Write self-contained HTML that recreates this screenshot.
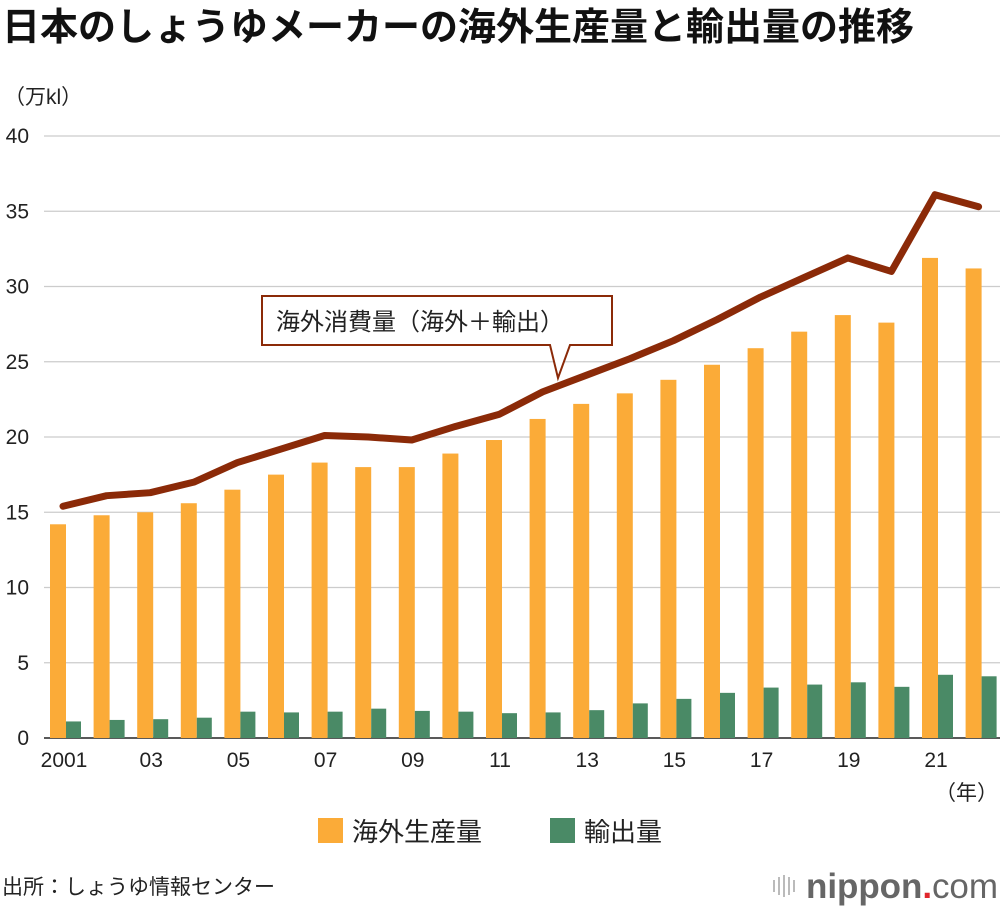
<!DOCTYPE html>
<html><head><meta charset="utf-8"><style>
body{margin:0;background:#fff;width:1000px;height:910px;overflow:hidden;font-family:"Liberation Sans","Noto Sans CJK JP",sans-serif}
</style></head><body>
<svg width="1000" height="910" style="font-family:'Liberation Sans','Noto Sans CJK JP',sans-serif">
<text x="2" y="40" font-size="38" font-weight="bold" fill="#111">日本のしょうゆメーカーの海外生産量と輸出量の推移</text>
<text x="4" y="104" font-size="21" fill="#222">（万kl）</text>
<g id="grid"></g><g id="bars"></g><g id="line"></g><g id="xt"></g>
<text x="998" y="800" font-size="21" text-anchor="end" fill="#222">（年）</text>
<g>
<path d="M262,296 H612 V345 H570 L558,378 L550,345 H262 Z" fill="#fff" stroke="#8b2a08" stroke-width="2"/>
<text x="276" y="330" font-size="24" fill="#222">海外消費量（海外＋輸出）</text>
</g>
<g>
<rect x="318" y="818" width="25" height="25" fill="#fbab38"/>
<text x="352" y="841" font-size="26" fill="#222">海外生産量</text>
<rect x="550" y="818" width="25" height="25" fill="#4a8a66"/>
<text x="584" y="841" font-size="26" fill="#222">輸出量</text>
</g>
<text x="2" y="894" font-size="21" fill="#222">出所：しょうゆ情報センター</text>
<g>
<g fill="#bbb"><rect x="773" y="880" width="2" height="12"/><rect x="778" y="877" width="2" height="18"/><rect x="783" y="875" width="2" height="22"/><rect x="788" y="877" width="2" height="18"/><rect x="793" y="880" width="2" height="12"/></g>
<text x="806" y="898" font-size="35" font-weight="bold" fill="#666" textLength="192">nippon<tspan fill="#e0262c">.</tspan><tspan font-weight="normal">com</tspan></text>
</g>
</svg>
<script>
const years=["2001","02","03","04","05","06","07","08","09","10","11","12","13","14","15","16","17","18","19","20","21","22"];
const overseas=[14.2,14.8,15.0,15.6,16.5,17.5,18.3,18.0,18.0,18.9,19.8,21.2,22.2,22.9,23.8,24.8,25.9,27.0,28.1,27.6,31.9,31.2];
const exportsV=[1.1,1.2,1.25,1.35,1.75,1.7,1.75,1.95,1.8,1.75,1.65,1.7,1.85,2.3,2.6,3.0,3.35,3.55,3.7,3.4,4.2,4.1];
const total=[15.4,16.1,16.3,17.0,18.3,19.2,20.1,20.0,19.8,20.7,21.5,23.0,24.1,25.2,26.4,27.8,29.3,30.6,31.9,31.0,36.1,35.3];
const yTicks=[0,5,10,15,20,25,30,35,40];
const shownX=["2001","03","05","07","09","11","13","15","17","19","21"];
const NS="http://www.w3.org/2000/svg";
const y=v=>738-v*15.05;
const x=i=>66+i*43.6;
function mk(t,a,p){const e=document.createElementNS(NS,t);for(const k in a)e.setAttribute(k,a[k]);p.appendChild(e);return e;}
const g=document.getElementById('grid');
yTicks.forEach(v=>{
 const l=mk('line',{x1:44,x2:1000,y1:y(v),y2:y(v),stroke:v===0?'#222':'#ccc','stroke-width':v===0?1.5:1.2},g);
 
 
 const t=mk('text',{x:29,y:y(v)+7,'font-size':21,'text-anchor':'end',fill:'#222'},g);
 t.textContent=v;
 
 
});
const b=document.getElementById('bars');
years.forEach((yr,i)=>{
 const r1=mk('rect',{x:x(i)-16,y:y(overseas[i]),width:16,height:738-y(overseas[i]),fill:'#fbab38'},b);
 
 
 const r2=mk('rect',{x:x(i),y:y(exportsV[i]),width:15,height:738-y(exportsV[i]),fill:'#4a8a66'},b);
 
 
});
const pl=mk('polyline',{points:total.map((v,i)=>x(i)-3+','+y(v)).join(' '),fill:'none',stroke:'#8b2a08','stroke-width':7,'stroke-linejoin':'round','stroke-linecap':'round'},document.getElementById('line'));


const xt=document.getElementById('xt');
years.forEach((yr,i)=>{
 if(!shownX.includes(yr))return;
 const t=mk('text',{x:x(i)-2,y:767,'font-size':21,'text-anchor':'middle',fill:'#222'},xt);
 t.textContent=yr;
 
 
});
</script>
</body></html>
